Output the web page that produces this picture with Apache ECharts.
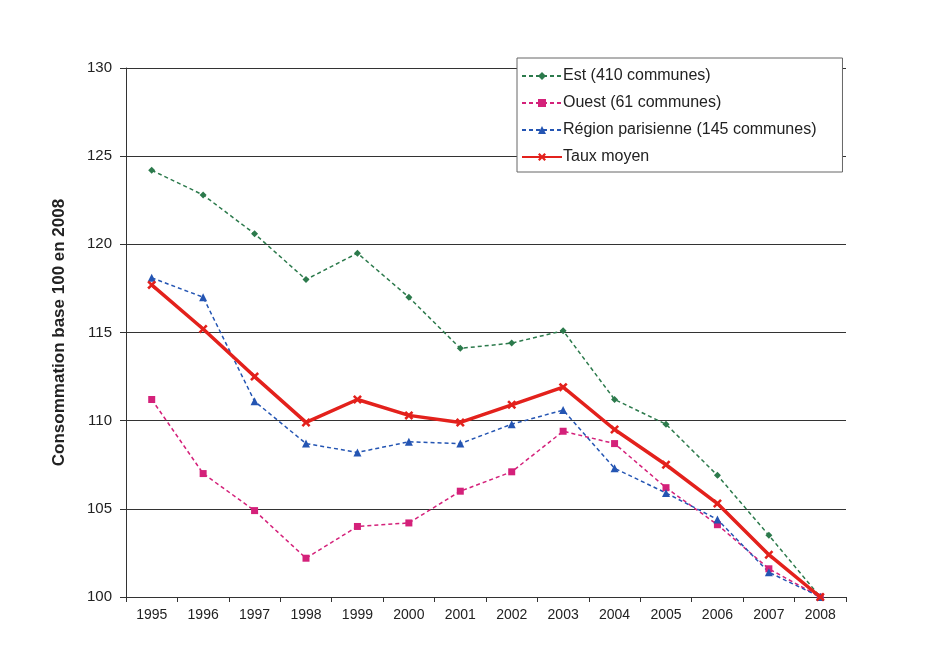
<!DOCTYPE html>
<html>
<head>
<meta charset="utf-8">
<script src="https://cdn.jsdelivr.net/npm/echarts@6/dist/echarts.min.js"></script>
<style>
  html, body { margin: 0; padding: 0; background: #fff; }
  #chart { width: 949px; height: 655px; }
</style>
</head>
<body>
<div id="chart"></div>
<script>
// années
var years = ['1995', '1996', '1997', '1998', '1999', '2000', '2001', '2002', '2003', '2004', '2005', '2006', '2007', '2008'];

var est = [124.2, 122.8, 120.6, 118.0, 119.5, 117.0, 114.1, 114.4, 115.1, 111.2, 109.8, 106.9, 103.5, 100];
var ouest = [111.2, 107.0, 104.9, 102.2, 104.0, 104.2, 106.0, 107.1, 109.4, 108.7, 106.2, 104.1, 101.6, 100];
var parisienne = [118.1, 117.0, 111.1, 108.7, 108.2, 108.8, 108.7, 109.8, 110.6, 107.3, 105.9, 104.4, 101.4, 100];
var tauxMoyen = [117.7, 115.2, 112.5, 109.9, 111.2, 110.3, 109.9, 110.9, 111.9, 109.5, 107.5, 105.3, 102.4, 100];

var seriesNames = ['Est (410 communes)', 'Ouest (61 communes)', 'Région parisienne (145 communes)', 'Taux moyen'];

var crossSymbol = 'path://M0,2L2,0L5,3L8,0L10,2L7,5L10,8L8,10L5,7L2,10L0,8L3,5Z';

var myChart = echarts.init(document.getElementById('chart'));

function dashed(name, data, color, symbol, size) {
  return {
    name: name,
    type: 'line',
    data: data,
    symbol: symbol,
    symbolSize: size,
    showAllSymbol: true,
    lineStyle: { color: color, width: 1.5, type: [4, 3] },
    itemStyle: { color: color },
    emphasis: { disabled: true }
  };
}

myChart.setOption({
  animation: false,
  textStyle: { fontFamily: '"Liberation Sans", Arial, sans-serif' },
  grid: { left: 126, right: 103, top: 68, bottom: 58 },
  legend: {
    orient: 'vertical',
    left: 517,
    top: 58,
    itemWidth: 40,
    itemHeight: 10,
    itemGap: 11,
    padding: [10, 26, 7, 4],
    borderColor: '#666',
    borderWidth: 1,
    backgroundColor: '#fff',
    textStyle: { fontSize: 16, color: '#222', padding: [0, 0, 0, -4] },
    data: seriesNames
  },
  xAxis: {
    type: 'category',
    data: years,
    boundaryGap: true,
    axisLine: { lineStyle: { color: '#333', width: 1 } },
    axisTick: { show: true, alignWithLabel: false, length: 5, lineStyle: { color: '#333' } },
    axisLabel: { fontSize: 14, color: '#222', margin: 11 }
  },
  yAxis: {
    type: 'value',
    min: 100,
    max: 130,
    interval: 5,
    name: 'Consommation base 100 en 2008',
    nameLocation: 'middle',
    nameGap: 58,
    nameRotate: 90,
    nameTextStyle: { fontSize: 17, fontWeight: 'bold', color: '#222' },
    axisLine: { show: true, lineStyle: { color: '#333', width: 1 } },
    axisTick: { show: true, length: 6, lineStyle: { color: '#333' } },
    axisLabel: { fontSize: 15, color: '#222', margin: 14 },
    splitLine: { show: true, lineStyle: { color: '#333', width: 1.2 } }
  },
  series: [
    dashed(seriesNames[0], est, '#2c7a4c', 'diamond', 7),
    dashed(seriesNames[1], ouest, '#d4217a', 'rect', 7),
    dashed(seriesNames[2], parisienne, '#2455b3', 'triangle', 8),
    {
      name: seriesNames[3],
      type: 'line',
      data: tauxMoyen,
      symbol: crossSymbol,
      symbolSize: 9,
      lineStyle: { color: '#e3211c', width: 3.5 },
      itemStyle: { color: '#e3211c' },
      z: 5,
      emphasis: { disabled: true }
    }
  ]
});
</script>
</body>
</html>
